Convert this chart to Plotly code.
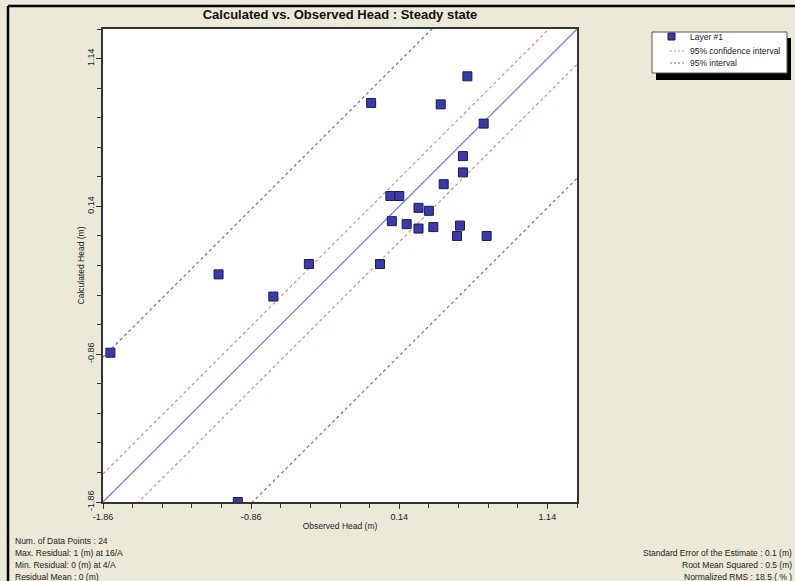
import plotly.graph_objects as go

# ---------------- data ----------------
observed = [-1.81, -1.08, -0.71, -0.95, -0.47, -0.05, 0.01, 0.08, 0.14, 0.09, 0.19, 0.27,
            0.34, 0.27, 0.37, 0.42, 0.44, 0.53, 0.55, 0.57, 0.57, 0.60, 0.71, 0.73]
calculated = [-0.85, -0.32, -0.47, -1.86, -0.25, 0.84, -0.25, 0.21, 0.21, 0.04, 0.02, 0.13,
              0.11, -0.01, 0.00, 0.83, 0.29, -0.06, 0.01, 0.37, 0.48, 1.02, 0.70, -0.06]
axis_range = [-1.86, 1.34]
tick_vals = [-1.86, -0.86, 0.14, 1.14]
tick_text = ["-1.86", "-0.86", "0.14", "1.14"]
conf_upper_offset = 0.19
conf_lower_offset = -0.24
pred_upper_offset = 0.98
pred_lower_offset = -1.01

left_stats = ["Num. of Data Points : 24", "Max. Residual: 1 (m) at 16/A",
              "Min. Residual: 0 (m) at 4/A", "Residual Mean : 0 (m)"]
right_stats = ["Standard Error of the Estimate : 0.1 (m)", "Root Mean Squared : 0.5 (m)",
               "Normalized RMS : 18.5 ( % )"]
legend_labels = ["Layer #1", "95% confidence interval", "95% interval"]

# ---------------- layout geometry ----------------
W, H = 795, 581
L, R, T, B = 103, 577, 29, 502
FONT = "Liberation Sans, Arial, sans-serif"
BG = "#ECE9D8"
MARK_FILL = "#3B3BA6"
MARK_LINE = "#1A1A5C"
SOLID_BLUE = "#7C7CE6"
RED_DASH = "#F08A8A"
BLUE_DASH = "#7474E2"


def px(xp):
    return (xp - L) / (R - L)


def py(yp):
    return (B - yp) / (B - T)


fig = go.Figure()

xs = axis_range
fig.add_trace(go.Scatter(x=xs, y=xs, mode="lines", line=dict(color=SOLID_BLUE, width=1.3),
                         showlegend=False, hoverinfo="skip"))
for off in (conf_upper_offset, conf_lower_offset):
    fig.add_trace(go.Scatter(x=xs, y=[v + off for v in xs], mode="lines",
                             line=dict(color=RED_DASH, width=1.3, dash="3px,3px"),
                             showlegend=False, hoverinfo="skip"))
for off in (pred_upper_offset, pred_lower_offset):
    fig.add_trace(go.Scatter(x=xs, y=[v + off for v in xs], mode="lines",
                             line=dict(color=BLUE_DASH, width=1.3, dash="3px,3px"),
                             showlegend=False, hoverinfo="skip"))

fig.add_trace(go.Scatter(x=observed, y=calculated, mode="markers", name="Layer #1",
                         marker=dict(symbol="square", size=9, color=MARK_FILL,
                                     line=dict(color=MARK_LINE, width=1)),
                         showlegend=False))

axis_common = dict(
    range=axis_range, tickmode="array", tickvals=tick_vals, ticktext=tick_text,
    ticks="outside", ticklen=5, tickcolor="#333333", tickwidth=1,
    minor=dict(ticks="outside", ticklen=4, tick0=-1.86, dtick=0.2, tickcolor="#333333"),
    showgrid=False, zeroline=False, showline=True, linecolor="#333333", linewidth=2,
    mirror=True, tickfont=dict(family=FONT, size=9, color="#222222"),
)

fig.update_layout(
    width=W, height=H,
    margin=dict(l=L, r=W - R, t=T, b=H - B, autoexpand=False),
    paper_bgcolor=BG, plot_bgcolor="white",
    showlegend=False,
    title=dict(text="<b>Calculated vs. Observed Head : Steady state</b>",
               x=px((L + R) / 2), xref="paper", xanchor="center",
               y=1 - 14 / H, yref="container", yanchor="middle",
               font=dict(family=FONT, size=13, color="#111111")),
    xaxis=dict(**axis_common,
               title=dict(text="Observed Head (m)", standoff=2,
                          font=dict(family=FONT, size=8.5, color="#222222"))),
    yaxis=dict(**axis_common, tickangle=-90, ticklabelstandoff=-2,
               title=dict(text="Calculated Head (m)", standoff=0,
                          font=dict(family=FONT, size=8.5, color="#222222"))),
)

shapes = []
# outer black frame (top and left)
shapes.append(dict(type="line", xref="paper", yref="paper", x0=px(8), x1=px(W + 5),
                   y0=py(6), y1=py(6), line=dict(color="black", width=2.5)))
shapes.append(dict(type="line", xref="paper", yref="paper", x0=px(8), x1=px(8),
                   y0=py(6), y1=py(H + 5), line=dict(color="black", width=2.5)))
# legend shadow + box
shapes.append(dict(type="rect", xref="paper", yref="paper", x0=px(656), x1=px(791),
                   y0=py(38), y1=py(80), fillcolor="black", line=dict(width=0), layer="above"))
shapes.append(dict(type="rect", xref="paper", yref="paper", x0=px(652), x1=px(787),
                   y0=py(32), y1=py(73), fillcolor="white",
                   line=dict(color="#555555", width=1), layer="above"))
# legend symbols
shapes.append(dict(type="rect", xref="paper", yref="paper", x0=px(668), x1=px(675),
                   y0=py(33), y1=py(40), fillcolor=MARK_FILL,
                   line=dict(color=MARK_LINE, width=1), layer="above"))
shapes.append(dict(type="line", xref="paper", yref="paper", x0=px(670), x1=px(684),
                   y0=py(51), y1=py(51), line=dict(color=RED_DASH, width=1.2, dash="2px,2px"),
                   layer="above"))
shapes.append(dict(type="line", xref="paper", yref="paper", x0=px(670), x1=px(684),
                   y0=py(63), y1=py(63), line=dict(color=BLUE_DASH, width=1.2, dash="2px,2px"),
                   layer="above"))
fig.update_layout(shapes=shapes)

annotations = []
for lbl, yy in zip(legend_labels, [37, 51, 63]):
    annotations.append(dict(text=lbl, xref="paper", yref="paper", x=px(688), y=py(yy),
                            xanchor="left", yanchor="middle", showarrow=False,
                            font=dict(family=FONT, size=8.5, color="#222222")))
for i, txt in enumerate(left_stats):
    annotations.append(dict(text=txt, xref="paper", yref="paper", x=px(13), y=py(541 + 12 * i),
                            xanchor="left", yanchor="middle", showarrow=False,
                            font=dict(family=FONT, size=8.5, color="#222222")))
for i, txt in enumerate(right_stats):
    annotations.append(dict(text=txt, xref="paper", yref="paper", x=px(794), y=py(553 + 12 * i),
                            xanchor="right", yanchor="middle", showarrow=False,
                            font=dict(family=FONT, size=8.5, color="#222222")))
fig.update_layout(annotations=annotations)

fig.write_html("out.html", config={"displayModeBar": False},
               post_script="document.body.style.margin='0';document.body.style.overflow='hidden';")
